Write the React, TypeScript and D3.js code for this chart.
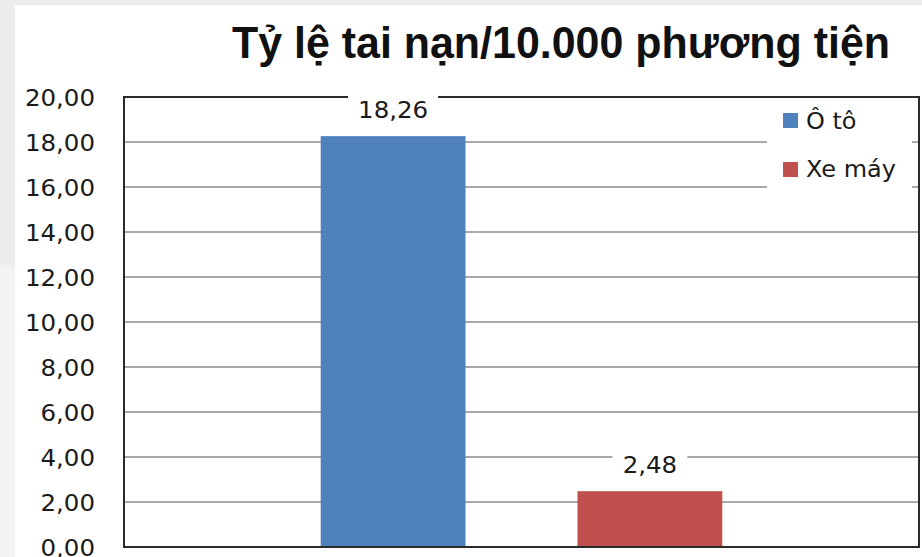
import React from "react";
import * as d3 from "d3";

const title = "Tỷ lệ tai nạn/10.000 phương tiện";
const seriesNames = ["Ô tô", "Xe máy"];
const seriesValues = [18.26, 2.48];
const seriesColors = ["#4f81bd", "#c0504d"];
const yTicks = [0, 2, 4, 6, 8, 10, 12, 14, 16, 18, 20];

const W = 922;
const H = 557;
const plot = { left: 124, right: 919, top: 97, bottom: 547 };
const SX = 1.065;

const fmt = (v: number) => v.toFixed(2).replace(".", ",");

function T(props: {
  x: number;
  y: number;
  anchor?: string;
  size: number;
  children: React.ReactNode;
}) {
  return (
    <g transform={`translate(${props.x},${props.y}) scale(${SX},1)`}>
      <text
        x={0}
        y={0}
        textAnchor={props.anchor || "start"}
        fontFamily="'DejaVu Sans', Verdana, sans-serif"
        fontSize={props.size}
        fill="#1a1a1a"
      >
        {props.children}
      </text>
    </g>
  );
}

export default function App() {
  const y = d3.scaleLinear().domain([0, 20]).range([plot.bottom, plot.top]);
  const x = d3
    .scaleBand<string>()
    .domain(seriesNames)
    .range([plot.left, plot.right])
    .paddingInner(0.436)
    .paddingOuter(0.766);
  const labelBoxes = seriesNames.map((s, i) => {
    const cx = (x(s) as number) + x.bandwidth() / 2;
    const base = y(seriesValues[i]) - 18;
    const tw = fmt(seriesValues[i]).length === 5 ? 69 : 54;
    return { cx, base, tw };
  });
  return (
    <svg
      width={W}
      height={H}
      style={{ position: "absolute", left: 0, top: 0, display: "block" }}
    >
      <rect x={0} y={0} width={W} height={H} fill="#ececec" />
      <rect x={0} y={265} width={15} height={H - 265} fill="#f3f3f3" />
      <rect x={15} y={5} width={W - 15} height={H - 5} fill="#ffffff" />
      <text
        x={232}
        y={58}
        fontFamily="'Liberation Sans', Arial, sans-serif"
        fontWeight="bold"
        fontSize={45}
        fill="#111"
        textLength={658}
        lengthAdjust="spacingAndGlyphs"
      >
        {title}
      </text>
      {yTicks.map((t) => (
        <g key={t}>
          <line
            x1={plot.left}
            x2={plot.right}
            y1={y(t)}
            y2={y(t)}
            stroke="#8c8c8c"
            strokeWidth={1.5}
          />
          <T x={95} y={y(t) + 8.5} anchor="end" size={23}>
            {fmt(t)}
          </T>
        </g>
      ))}
      {/* legend background */}
      <rect x={767} y={100} width={145} height={88} fill="#ffffff" />
      {seriesNames.map((s, i) => (
        <rect
          key={s}
          x={x(s)}
          y={y(seriesValues[i])}
          width={x.bandwidth()}
          height={plot.bottom - y(seriesValues[i])}
          fill={seriesColors[i]}
        />
      ))}
      {labelBoxes.map((b, i) => (
        <rect
          key={"lb" + i}
          x={b.cx - b.tw / 2 - 10.5}
          y={b.base - 22}
          width={b.tw + 21}
          height={30}
          fill="#ffffff"
        />
      ))}
      <rect
        x={plot.left}
        y={plot.top}
        width={plot.right - plot.left}
        height={plot.bottom - plot.top}
        fill="none"
        stroke="#2a2a2a"
        strokeWidth={2}
      />
      {labelBoxes.map((b, i) => (
        <rect
          key={"lc" + i}
          x={b.cx - b.tw / 2 - 10.5}
          y={Math.min(b.base - 22, plot.top - 2)}
          width={b.tw + 21}
          height={i === 0 ? 6 : 0}
          fill="#ffffff"
        />
      ))}
      {labelBoxes.map((b, i) => (
        <T key={"lt" + i} x={b.cx} y={b.base} anchor="middle" size={23}>
          {fmt(seriesValues[i])}
        </T>
      ))}
      {seriesNames.map((s, i) => (
        <g key={"lg" + s}>
          <rect
            x={783}
            y={113 + i * 49}
            width={15}
            height={15}
            fill={seriesColors[i]}
          />
          <T x={806} y={129 + i * 48} size={22.5}>
            {s}
          </T>
        </g>
      ))}
    </svg>
  );
}
